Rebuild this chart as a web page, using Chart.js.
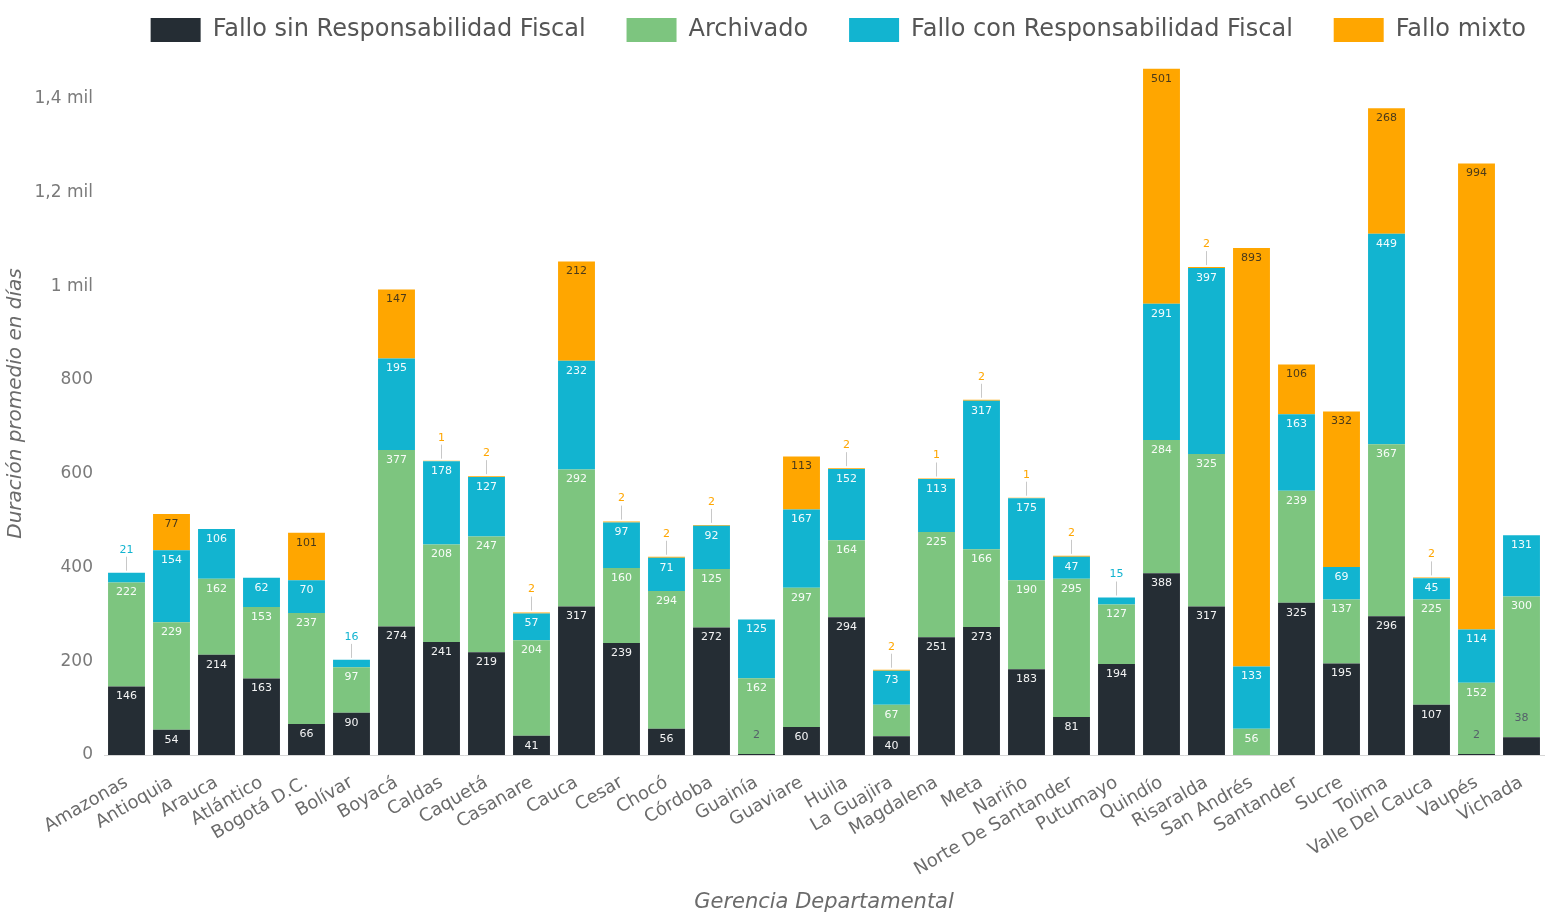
<!DOCTYPE html>
<html>
<head>
<meta charset="utf-8">
<script src="https://cdn.jsdelivr.net/npm/chart.js@4.4.1/dist/chart.umd.min.js"></script>
<style>
  body { margin: 0; background: #fff; }
  #caja { width: 1548px; height: 919px; }
</style>
</head>
<body>
<div id="caja"><canvas id="grafico"></canvas></div>
<script>
// datos
var categorias = ['Amazonas', 'Antioquia', 'Arauca', 'Atlántico', 'Bogotá D.C.', 'Bolívar', 'Boyacá', 'Caldas', 'Caquetá', 'Casanare',
  'Cauca', 'Cesar', 'Chocó', 'Córdoba', 'Guainía', 'Guaviare', 'Huila', 'La Guajira', 'Magdalena', 'Meta', 'Nariño',
  'Norte De Santander', 'Putumayo', 'Quindío', 'Risaralda', 'San Andrés', 'Santander', 'Sucre', 'Tolima', 'Valle Del Cauca', 'Vaupés', 'Vichada'];

var sinResp   = [146, 54, 214, 163, 66, 90, 274, 241, 219, 41, 317, 239, 56, 272, 2, 60, 294, 40, 251, 273, 183, 81, 194, 388, 317, null, 325, 195, 296, 107, 2, 38];
var archivado = [222, 229, 162, 153, 237, 97, 377, 208, 247, 204, 292, 160, 294, 125, 162, 297, 164, 67, 225, 166, 190, 295, 127, 284, 325, 56, 239, 137, 367, 225, 152, 300];
var conResp   = [21, 154, 106, 62, 70, 16, 195, 178, 127, 57, 232, 97, 71, 92, 125, 167, 152, 73, 113, 317, 175, 47, 15, 291, 397, 133, 163, 69, 449, 45, 114, 131];
var mixto     = [null, 77, null, null, 101, null, 147, 1, 2, 2, 212, 2, 2, 2, null, 113, 2, 2, 1, 2, 1, 2, null, 501, 2, 893, 106, 332, 268, 2, 994, null];

var cOscuro = '#252d34';
var cVerde = '#7dc57f';
var cAzul = '#12b4d0';
var cNaranja = '#ffa600';
var fuente = "'DejaVu Sans', sans-serif";

// etiquetas de valor (dentro del segmento o encima si no cabe)
var etiquetas = {
  id: 'etiquetas',
  afterDatasetsDraw: function(chart) {
    var ctx = chart.ctx;
    ctx.save();
    ctx.font = '11px ' + fuente;
    ctx.textAlign = 'center';
    ctx.textBaseline = 'middle';
    var n = chart.data.labels.length;
    for (var i = 0; i < n; i++) {
      var tope = null;
      chart.data.datasets.forEach(function(ds, d) {
        var bar = chart.getDatasetMeta(d).data[i];
        if (ds.data[i] == null) return;
        if (tope === null || bar.y < tope) tope = bar.y;
      });
      var arriba = 0;
      chart.data.datasets.forEach(function(ds, d) {
        var v = ds.data[i];
        if (v == null) return;
        var bar = chart.getDatasetMeta(d).data[i];
        var alto = bar.base - bar.y;
        if (alto >= 18) {
          ctx.fillStyle = d == 3 ? '#4a3a1a' : 'rgba(255,255,255,0.95)';
          ctx.fillText(v, bar.x, bar.y + 10);
        } else if (d == 0) {
          ctx.fillStyle = '#55606a';
          ctx.fillText(v, bar.x, bar.y - 19);
        } else {
          var y0 = tope - 2 - arriba;
          ctx.strokeStyle = '#c8c8c8';
          ctx.lineWidth = 1;
          ctx.beginPath();
          ctx.moveTo(bar.x, y0);
          ctx.lineTo(bar.x, y0 - 14);
          ctx.stroke();
          ctx.fillStyle = ds.backgroundColor;
          ctx.fillText(v, bar.x, y0 - 21);
          arriba += 28;
        }
      });
    }
    ctx.restore();
  }
};

var ctx1 = document.getElementById('grafico').getContext('2d');
var grafico = new Chart(ctx1, {
  type: 'bar',
  data: {
    labels: categorias,
    datasets: [
      { label: 'Fallo sin Responsabilidad Fiscal   ', data: sinResp, backgroundColor: cOscuro },
      { label: 'Archivado   ', data: archivado, backgroundColor: cVerde },
      { label: 'Fallo con Responsabilidad Fiscal   ', data: conResp, backgroundColor: cAzul },
      { label: 'Fallo mixto', data: mixto, backgroundColor: cNaranja }
    ]
  },
  options: {
    responsive: true,
    maintainAspectRatio: false,
    animation: false,
    layout: { padding: { top: 0, right: 4 } },
    datasets: { bar: { barPercentage: 0.82, categoryPercentage: 1 } },
    plugins: {
      tooltip: { enabled: false },
      legend: {
        position: 'top',
        align: 'end',
        labels: {
          boxWidth: 50,
          boxHeight: 24,
          padding: 18,
          color: '#555',
          font: { family: fuente, size: 24 }
        }
      }
    },
    scales: {
      x: {
        stacked: true,
        grid: { display: false },
        border: { color: '#d6d6d6' },
        ticks: {
          autoSkip: false,
          minRotation: 30, maxRotation: 30,
          padding: 9,
          color: '#6b6b6b',
          font: { family: fuente, size: 18 }
        },
        title: {
          display: true,
          text: 'Gerencia Departamental',
          color: '#6b6b6b',
          font: { family: fuente, size: 21, style: 'italic' }
        },
        afterFit: function(s) { s.height = 164; }
      },
      y: {
        stacked: true,
        min: 0,
        max: 1500,
        grid: { display: false },
        border: { display: false },
        ticks: {
          stepSize: 200,
          color: '#7a7a7a',
          font: { family: fuente, size: 17 },
          callback: function(v) {
            if (v % 200) return null;
            if (v >= 1000) return (v / 1000).toString().replace('.', ',') + ' mil';
            return v;
          }
        },
        title: {
          display: true,
          text: 'Duración promedio en días',
          color: '#6b6b6b',
          font: { family: fuente, size: 20, style: 'italic' }
        },
        afterFit: function(s) { s.width = 104; }
      }
    }
  },
  plugins: [etiquetas]
});
</script>
</body>
</html>
